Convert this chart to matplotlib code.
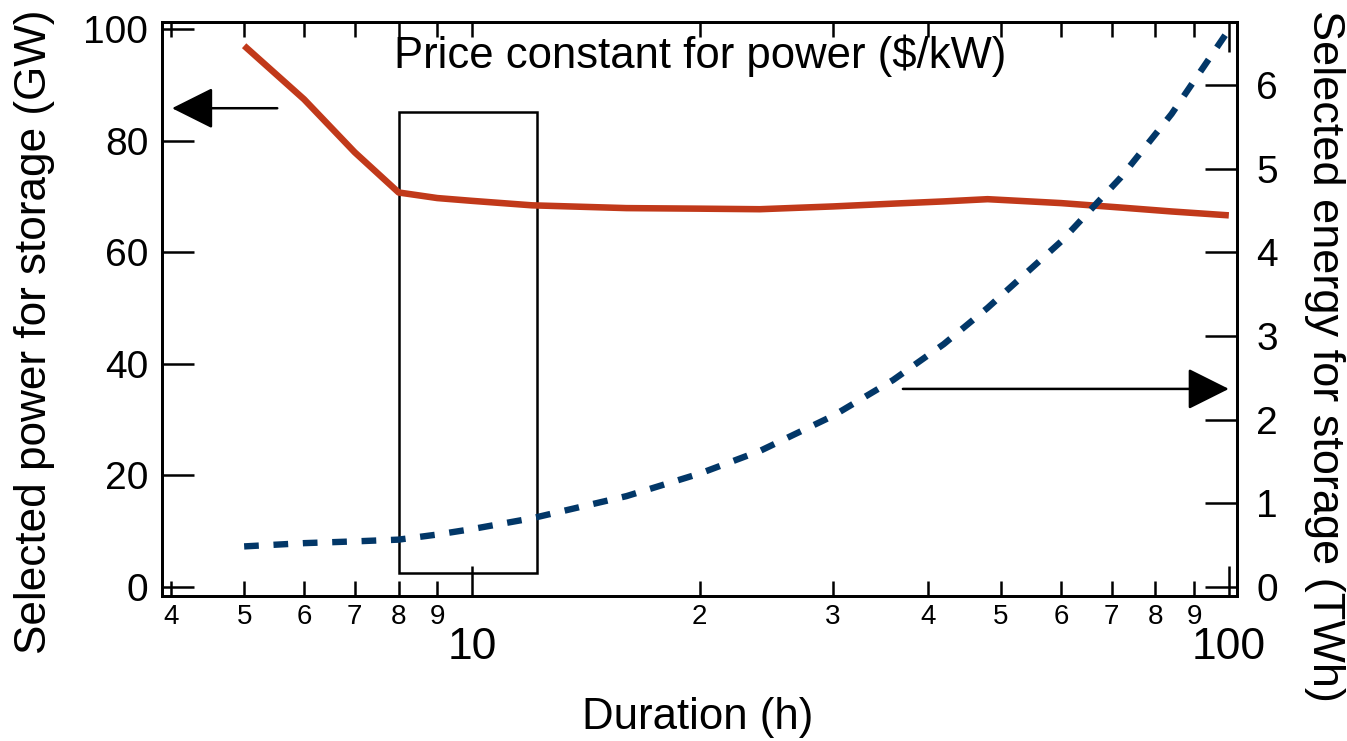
import matplotlib
matplotlib.use("Agg")
import matplotlib.pyplot as plt
from matplotlib.patches import Rectangle
from matplotlib.ticker import FixedLocator, FixedFormatter

plt.rcParams['font.family'] = ['Liberation Sans', 'DejaVu Sans']

# storage duration (h)
duration = [5, 6, 7, 8, 9, 10, 12, 16, 20, 24, 30, 36, 42, 48, 60, 72, 84, 100]
# selected power (GW), left axis
power = [97.0, 87.4, 77.9, 70.7, 69.7, 69.2, 68.4, 67.9, 67.8, 67.7,
         68.2, 68.7, 69.1, 69.5, 68.8, 68.0, 67.3, 66.6]
# selected energy (TWh), right axis
energy = [0.485, 0.524, 0.545, 0.566, 0.627, 0.692, 0.821, 1.086, 1.356, 1.625,
          2.046, 2.473, 2.902, 3.336, 4.128, 4.896, 5.653, 6.66]

major_x = [10, 100]
major_x_lbl = ['10', '100']
minor_x = [4, 5, 6, 7, 8, 9, 20, 30, 40, 50, 60, 70, 80, 90]
minor_x_lbl = ['4', '5', '6', '7', '8', '9', '2', '3', '4', '5', '6', '7', '8', '9']
left_ticks = [0, 20, 40, 60, 80, 100]
right_ticks = [0, 1, 2, 3, 4, 5, 6]

# highlighted window (h, GW)
box_x = (8, 12.2)
box_y = (2.5, 85.1)

red = '#c1391a'
navy = '#023768'

fig = plt.figure(figsize=(13.47, 7.41), dpi=100)
ax = fig.add_axes([0.1203, 0.1957, 0.798, 0.7746])
ax2 = ax.twinx()

ax.set_xscale('log')
ax.set_xlim(3.895, 102.5)
ax.set_ylim(-1.61, 101.25)
ax2.set_ylim(-0.1076, 6.753)

ax.add_patch(Rectangle((box_x[0], box_y[0]), box_x[1] - box_x[0], box_y[1] - box_y[0],
                       fill=False, ec='k', lw=1.8, zorder=1))

ax.plot(duration, power, color=red, lw=4.7, solid_capstyle='butt',
        solid_joinstyle='round', zorder=3)
ax2.plot(duration, energy, color=navy, lw=4.6, dashes=(2.3, 2.3),
         dash_capstyle='butt', zorder=3)

# arrows pointing to the axis each curve belongs to
ax.annotate('', xy=(4.015, 85.8), xytext=(5.53, 85.8),
            arrowprops=dict(arrowstyle='-|>,head_length=2.6,head_width=1.3',
                            mutation_scale=10, lw=1.8, color='k',
                            shrinkA=0, shrinkB=0))
ax.annotate('', xy=(100, 35.5), xytext=(37.1, 35.5),
            arrowprops=dict(arrowstyle='-|>,head_length=2.6,head_width=1.3',
                            mutation_scale=10, lw=1.8, color='k',
                            shrinkA=0, shrinkB=0))

# x axis ticks (shared with ax2, so set them once here)
ax.xaxis.set_major_locator(FixedLocator(major_x))
ax.xaxis.set_major_formatter(FixedFormatter(major_x_lbl))
ax.xaxis.set_minor_locator(FixedLocator(minor_x))
ax.xaxis.set_minor_formatter(FixedFormatter(minor_x_lbl))
ax.tick_params(axis='x', which='major', direction='in', top=True, length=21.6,
               width=1.8, labelsize=32, pad=22)
ax.tick_params(axis='x', which='minor', direction='in', top=True, length=11,
               width=1.8, labelsize=20, pad=6)
ax.xaxis.get_major_ticks(2)[0].tick2line.set_markersize(11)

ax.set_yticks(left_ticks)
ax.tick_params(axis='y', direction='in', length=23, width=1.8, labelsize=28, pad=10)
ax2.set_yticks(right_ticks)
ax2.tick_params(axis='y', direction='in', length=23, width=1.8, labelsize=28, pad=14)

for a in (ax, ax2):
    for s in a.spines.values():
        s.set_linewidth(2.0)

fig.text(700 / 1347, 1 - 68 / 741, 'Price constant for power ($/kW)',
         fontsize=31.4, ha='center', va='baseline')
fig.text(698 / 1347, 1 - 718 / 741, 'Duration (h)', fontsize=31.5,
         ha='center', va='center')
fig.text(35 / 1347, 1 - 332 / 741, 'Selected power for storage (GW)', fontsize=31.8,
         rotation=90, ha='center', va='center')
fig.text(1325 / 1347, 1 - 356 / 741, 'Selected energy for storage (TWh)', fontsize=32.5,
         rotation=270, ha='center', va='center')

fig.savefig('out.png', dpi=100)
